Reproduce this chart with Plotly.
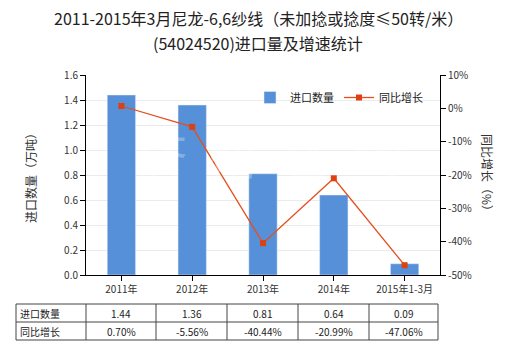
import plotly.graph_objects as go

categories = ["2011年", "2012年", "2013年", "2014年", "2015年1-3月"]
import_qty = [1.44, 1.36, 0.81, 0.64, 0.09]
growth = [0.70, -5.56, -40.44, -20.99, -47.06]
qty_labels = ["1.44", "1.36", "0.81", "0.64", "0.09"]
growth_labels = ["0.70%", "-5.56%", "-40.44%", "-20.99%", "-47.06%"]
title_lines = ["2011-2015年3月尼龙-6,6纱线（未加捻或捻度≤50转/米）", "(54024520)进口量及增速统计"]
right_ticks = [10, 0, -10, -20, -30, -40, -50]
right_tick_text = ["10%", "0%", "-10%", "-20%", "-30%", "-40%", "-50%"]

FONT = "Noto Sans CJK SC"
W, H = 520, 350
L, R, T, B = 86, 80, 75, 75
pw, ph = W - L - R, H - T - B

def px(x):
    return (x - L) / pw

def py(y):
    return (H - B - y) / ph

fig = go.Figure()
fig.add_trace(go.Bar(x=categories, y=import_qty, name="进口数量", marker_color="#5590D8",
                     width=0.4, yaxis="y"))
fig.add_trace(go.Scatter(x=categories, y=growth, name="同比增长", mode="lines+markers",
                         line=dict(color="#E3501E", width=1.3),
                         marker=dict(symbol="square", size=6, color="#DE4010"),
                         yaxis="y2"))

fig.update_layout(
    width=W, height=H, margin=dict(l=L, r=R, t=T, b=B),
    paper_bgcolor="white", plot_bgcolor="white",
    font=dict(family=FONT, size=10, color="#333"),
    showlegend=True,
    legend=dict(orientation="h", x=px(250), y=py(83), xanchor="left", yanchor="top",
                font=dict(size=11, color="#222"), bgcolor="rgba(0,0,0,0)",
                traceorder="normal"),
    xaxis=dict(showline=True, linecolor="#000", ticks="outside", ticklen=5, tickcolor="#000",
               tickfont=dict(size=10, color="#333"), showgrid=False),
    yaxis=dict(range=[0, 1.6], dtick=0.2, tickformat=".1f", showline=True, linecolor="#000",
               ticks="outside", ticklen=5, tickcolor="#000", gridcolor="#ebebeb",
               tickfont=dict(size=10, color="#333"), zeroline=False),
    yaxis2=dict(range=[-50, 10], tickvals=right_ticks, ticktext=right_tick_text,
                overlaying="y", side="right",
                showline=True, linecolor="#000", ticks="outside", ticklen=5, tickcolor="#000",
                showgrid=False, zeroline=False, tickfont=dict(size=10, color="#333")),
)

ann = []
# faint watermark
ann.append(dict(text="济  研  咨  询", x=px(270), y=py(152), xref="paper", yref="paper",
                xanchor="center", yanchor="middle", showarrow=False,
                font=dict(size=50, color="rgba(255,255,255,0.28)")))
for i, t in enumerate(title_lines):
    ann.append(dict(text=t, x=px(258), y=py(18 + 25 * i), xref="paper", yref="paper",
                    xanchor="center", yanchor="middle", showarrow=False,
                    font=dict(size=16, color="#222")))
ann.append(dict(text="进口数量（万吨）", x=px(30), y=py(175), xref="paper", yref="paper",
                xanchor="center", yanchor="middle",
                textangle=-90, showarrow=False, font=dict(size=12, color="#333")))
ann.append(dict(text="同比增长（%）", x=px(488), y=py(175), xref="paper", yref="paper",
                xanchor="center", yanchor="middle",
                textangle=90, showarrow=False, font=dict(size=12, color="#333")))

# table
col_x = [16, 86, 156, 227, 298, 369, 438]
row_y = [304, 322, 340]
shapes = []
for yv in row_y:
    shapes.append(dict(type="line", xref="paper", yref="paper", x0=px(col_x[0]), x1=px(col_x[-1]),
                       y0=py(yv), y1=py(yv), line=dict(color="#444", width=1)))
for xv in col_x:
    shapes.append(dict(type="line", xref="paper", yref="paper", x0=px(xv), x1=px(xv),
                       y0=py(row_y[0]), y1=py(row_y[-1]), line=dict(color="#444", width=1)))
row_names = ["进口数量", "同比增长"]
row_vals = [qty_labels, growth_labels]
for r in range(2):
    yc = py((row_y[r] + row_y[r + 1]) / 2)
    ann.append(dict(text=row_names[r], x=px(col_x[0] + 2), y=yc, xref="paper", yref="paper",
                    xanchor="left", yanchor="middle", showarrow=False,
                    font=dict(size=10, color="#222")))
    for c in range(5):
        ann.append(dict(text=row_vals[r][c], x=px((col_x[c + 1] + col_x[c + 2]) / 2), y=yc,
                        xref="paper", yref="paper", xanchor="center", yanchor="middle",
                        showarrow=False, font=dict(size=10, color="#222")))
fig.update_layout(annotations=ann, shapes=shapes)
fig.write_html("out.html")
